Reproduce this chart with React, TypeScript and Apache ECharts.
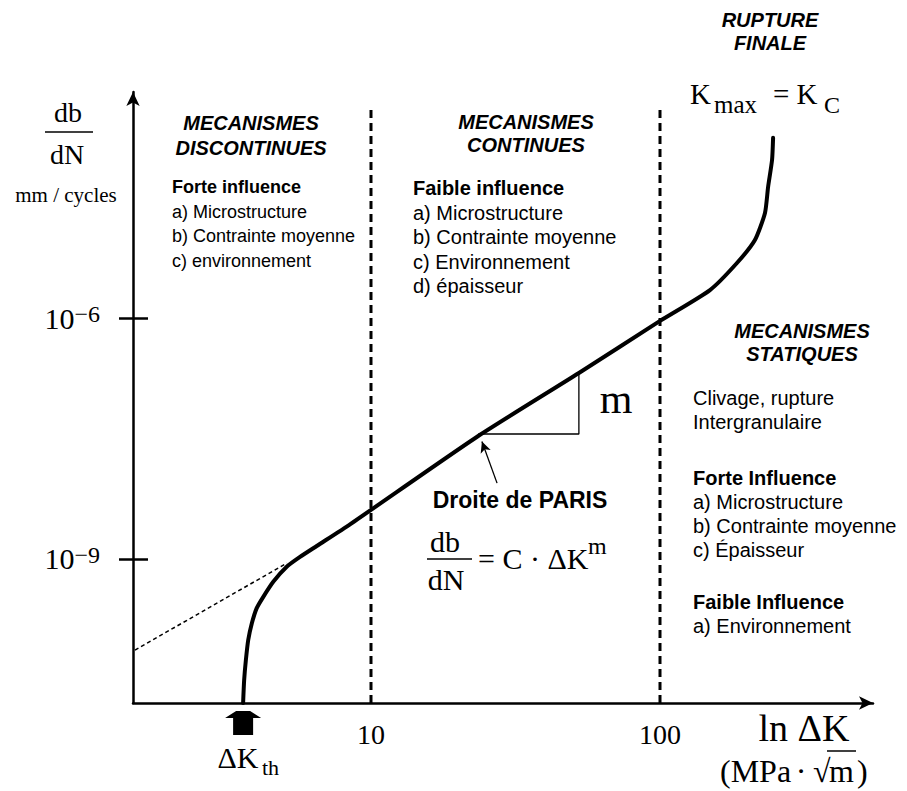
import React, { useEffect, useRef } from 'react';
import * as echarts from 'echarts';

// ---- data (ΔK in MPa·√m, growth rate db/dN in mm/cycle) ----
const curveDK = [3.61, 3.64, 3.69, 3.76, 3.87, 4.02, 4.24, 4.59, 5.11, 5.68, 6.49, 8.46, 23.5, 52.4, 100, 148.9, 184.6, 213, 230.8, 236.6, 244.2, 246.2];
const curveRate = [1.61e-11, 3.1e-11, 5.5e-11, 9.8e-11, 1.58e-10, 2.43e-10, 3.38e-10, 5.2e-10, 8.0e-10, 1.06e-9, 1.45e-9, 2.7e-9, 3.4e-8, 2.07e-7, 9.2e-7, 2.23e-6, 4.84e-6, 9.35e-6, 2.03e-5, 4.28e-5, 9.3e-5, 1.75e-4];
const parisExtDK = [1.525, 5.12];
const parisExtRate = [7.34e-11, 8.9e-10];
const regimeBoundsDK = [10, 100];
const boundaryTopRate = 4.5e-4;
const triangleDK = [23.5, 52.4, 52.4];
const triangleRate = [3.6e-8, 3.6e-8, 2.07e-7];
const pointerDK = [27.3, 24.2];
const pointerRate = [8.8e-9, 2.9e-8];
const thresholdDK = 3.61;
const xTickValues = [10, 100];
const yTickExponents = [-9, -6];
const xLogRange = [0.1765, 2.737];
const yLogRange = [-10.793, -3.186];

const L = Math.log10;
const SANS = 'Liberation Sans, Arial, Helvetica, sans-serif';
const SERIF = 'Liberation Serif, Times New Roman, serif';

function txt(x: number, y: number, text: string, fontSize: number, opts: any = {}) {
  return {
    type: 'text',
    x,
    y,
    silent: true,
    style: {
      text,
      fontSize,
      fontFamily: opts.serif ? SERIF : SANS,
      fontWeight: opts.bold ? 'bold' : 'normal',
      fontStyle: opts.italic ? 'italic' : 'normal',
      fill: '#000',
      align: opts.align || 'left',
      verticalAlign: 'middle',
    },
  };
}
function hline(x1: number, x2: number, y: number, w = 1.5) {
  return { type: 'line', silent: true, shape: { x1, y1: y, x2, y2: y }, style: { stroke: '#000', lineWidth: w } };
}

function buildOption() {
  const yMin = yLogRange[0];
  const lineSeries = (xs: number[], ys: number[], style: any, z = 2) => ({
    type: 'line',
    data: xs.map((v, i) => [L(v), L(ys[i])]),
    showSymbol: false,
    symbol: 'none',
    lineStyle: { color: '#000', ...style },
    silent: true,
    z,
    clip: false,
  });

  const graphics: any[] = [
    // y-axis title
    txt(68, 112, 'db', 28, { serif: true, align: 'center' }),
    hline(45, 93, 132, 1.5),
    txt(67, 154, 'dN', 28, { serif: true, align: 'center' }),
    txt(66, 195, 'mm / cycles', 21, { serif: true, align: 'center' }),
    // top right
    txt(770, 20, 'RUPTURE', 20, { bold: true, italic: true, align: 'center' }),
    txt(770, 43, 'FINALE', 20, { bold: true, italic: true, align: 'center' }),
    txt(690, 94, 'K', 29, { serif: true }),
    txt(714, 104, 'max', 25, { serif: true }),
    txt(773, 94, '= K', 29, { serif: true }),
    txt(824, 105, 'C', 24, { serif: true }),
    // block 1
    txt(251, 123, 'MECANISMES', 20, { bold: true, italic: true, align: 'center' }),
    txt(251, 148, 'DISCONTINUES', 20, { bold: true, italic: true, align: 'center' }),
    txt(172, 187, 'Forte influence', 18, { bold: true }),
    txt(172, 211.5, 'a) Microstructure', 18),
    txt(172, 236, 'b) Contrainte moyenne', 18),
    txt(172, 260.5, 'c) environnement', 18),
    // block 2
    txt(526, 122, 'MECANISMES', 20, { bold: true, italic: true, align: 'center' }),
    txt(526, 145, 'CONTINUES', 20, { bold: true, italic: true, align: 'center' }),
    txt(413, 188, 'Faible influence', 20, { bold: true }),
    txt(413, 212.5, 'a) Microstructure', 20),
    txt(413, 237, 'b) Contrainte moyenne', 20),
    txt(413, 261.5, 'c) Environnement', 20),
    txt(413, 286, 'd) épaisseur', 20),
    // block 3
    txt(802, 331, 'MECANISMES', 20, { bold: true, italic: true, align: 'center' }),
    txt(802, 354, 'STATIQUES', 20, { bold: true, italic: true, align: 'center' }),
    txt(693, 398, 'Clivage, rupture', 20),
    txt(693, 422, 'Intergranulaire', 20),
    txt(693, 478, 'Forte Influence', 20, { bold: true }),
    txt(693, 502, 'a) Microstructure', 20),
    txt(693, 526, 'b) Contrainte moyenne', 20),
    txt(693, 550, 'c) Épaisseur', 20),
    txt(693, 602, 'Faible Influence', 20, { bold: true }),
    txt(693, 626, 'a) Environnement', 20),
    // slope label
    txt(616, 399, 'm', 42, { serif: true, align: 'center' }),
    // Paris law
    txt(520, 500, 'Droite de PARIS', 23, { bold: true, align: 'center' }),
    txt(445, 541, 'db', 30, { serif: true, align: 'center' }),
    hline(427, 472, 559, 1.5),
    txt(446, 579, 'dN', 30, { serif: true, align: 'center' }),
    txt(478, 558, '= C · ΔK', 30, { serif: true }),
    txt(588, 546, 'm', 24, { serif: true }),
    // threshold label
    txt(238, 757, 'ΔK', 30, { serif: true, align: 'center' }),
    txt(262, 767, 'th', 22, { serif: true }),
    // x-axis title
    txt(804, 728, 'ln ΔK', 38, { serif: true, align: 'center' }),
    txt(720, 771, '(MPa', 32, { serif: true }),
    txt(801, 771, '·', 32, { serif: true, align: 'center' }),
    txt(813, 771, '√', 32, { serif: true }),
    txt(829, 771, 'm', 32, { serif: true }),
    txt(857, 771, ')', 32, { serif: true }),
    hline(827, 856, 751, 1.5),
  ];

  const tickSet = yTickExponents.slice();

  return {
    animation: false,
    backgroundColor: '#fff',
    grid: { left: 133, right: 34, top: 92, bottom: 88, containLabel: false, outerBoundsMode: 'none' },
    xAxis: {
      type: 'value',
      min: xLogRange[0],
      max: xLogRange[1],
      splitLine: { show: false },
      axisLine: {
        show: true,
        onZero: false,
        symbol: ['none', 'arrow'],
        symbolSize: [10, 14],
        lineStyle: { color: '#000', width: 2.5 },
      },
      axisTick: { show: false },
      axisLabel: {
        customValues: xTickValues.map((v) => L(v)),
        formatter: (v: number) => String(Math.round(Math.pow(10, v))),
        fontFamily: SERIF,
        fontSize: 28,
        color: '#000',
        margin: 17,
      },
    },
    yAxis: [
      {
        type: 'value',
        min: yLogRange[0],
        max: yLogRange[1],
        splitLine: { show: false },
        axisLine: {
          show: true,
          onZero: false,
          symbol: ['none', 'arrow'],
          symbolSize: [10, 14],
          lineStyle: { color: '#000', width: 2.5 },
        },
        axisTick: { show: true, customValues: tickSet, length: 14, inside: false, lineStyle: { color: '#000', width: 2.5 } },
        axisLabel: {
          customValues: tickSet,
          formatter: (v: number) => `{b|10}{s|−${Math.abs(Math.round(v))}}`,
          margin: 33,
          rich: {
            b: { fontFamily: SERIF, fontSize: 30, color: '#000', lineHeight: 32 },
            s: { fontFamily: SERIF, fontSize: 24, color: '#000', verticalAlign: 'top', lineHeight: 20 },
          },
        },
      },
      {
        type: 'value',
        position: 'left',
        min: yLogRange[0],
        max: yLogRange[1],
        splitLine: { show: false },
        axisLine: { show: false, onZero: false },
        axisTick: { show: true, customValues: tickSet, length: 15, inside: true, lineStyle: { color: '#000', width: 2.5 } },
        axisLabel: { show: false },
      },
    ],
    series: [
      ...regimeBoundsDK.map((k) =>
        lineSeries([k, k], [Math.pow(10, yMin), boundaryTopRate], { width: 3, type: [8, 5] }, 1)
      ),
      lineSeries(parisExtDK, parisExtRate, { width: 1.5, type: [4, 3] }, 1),
      lineSeries(triangleDK, triangleRate, { width: 1.3 }, 1),
      {
        type: 'line',
        data: [],
        silent: true,
        markLine: {
          silent: true,
          symbol: ['none', 'arrow'],
          symbolSize: [8, 11],
          label: { show: false },
          lineStyle: { color: '#000', width: 1.3, type: 'solid' },
          data: [[
            { coord: [L(pointerDK[0]), L(pointerRate[0])] },
            { coord: [L(pointerDK[1]), L(pointerRate[1])] },
          ]],
        },
      },
      { ...lineSeries(curveDK, curveRate, { width: 4, cap: 'round', join: 'round' }, 3), smooth: 0.2 },
      {
        type: 'scatter',
        data: [[L(thresholdDK), yMin]],
        symbol: 'path://M11,0 L25,0 L36,7 L28,7 L28,24 L8,24 L8,7 L0,7 Z',
        symbolSize: [36, 24],
        symbolOffset: [0, 20],
        itemStyle: { color: '#000', opacity: 1 },
        silent: true,
        clip: false,
        z: 4,
      },
    ],
    graphic: graphics,
  };
}

export default function App() {
  const ref = useRef<HTMLDivElement>(null);
  useEffect(() => {
    if (!ref.current) return;
    const chart = echarts.init(ref.current, null, { renderer: 'svg' });
    chart.setOption(buildOption() as any);
    return () => chart.dispose();
  }, []);
  return (
    <div
      ref={ref}
      style={{ position: 'absolute', left: 0, top: 0, width: 907, height: 791, background: '#fff' }}
    />
  );
}
